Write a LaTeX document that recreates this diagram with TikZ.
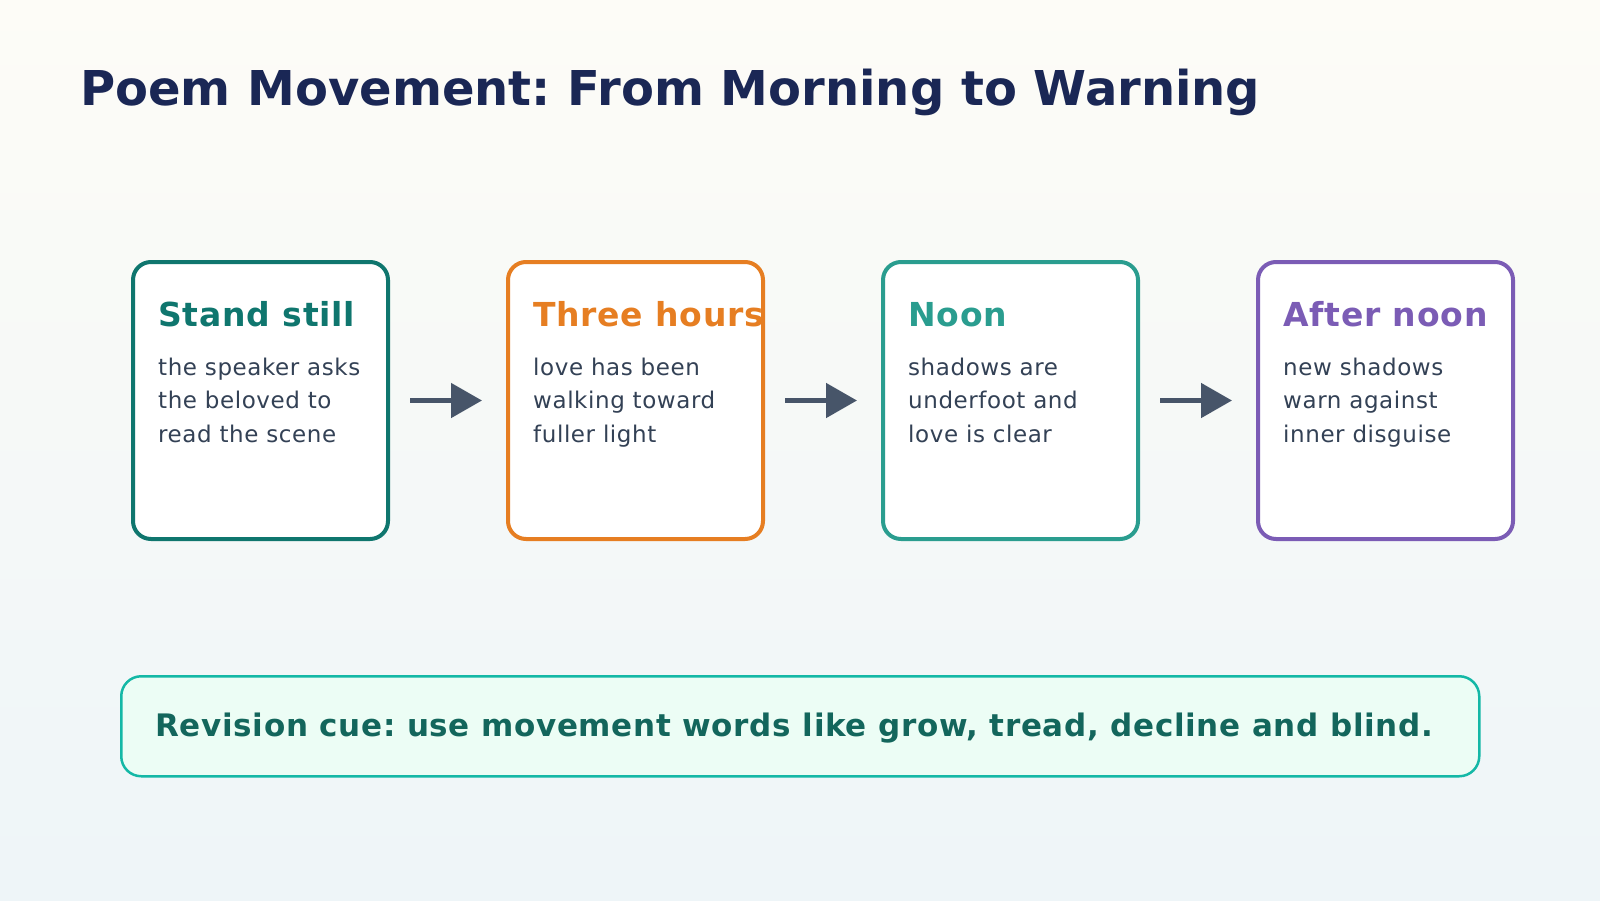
\documentclass[tikz,border=0pt]{standalone}
\usepackage{fontspec}
\setmainfont{DejaVu Sans}
\frenchspacing
\usetikzlibrary{arrows.meta,positioning}
\definecolor{ink}{HTML}{1A2755}
\definecolor{bodytext}{HTML}{334155}
\definecolor{arrowgray}{HTML}{475569}
\definecolor{stillc}{HTML}{0F766E}
\definecolor{hoursc}{HTML}{E67E22}
\definecolor{noonc}{HTML}{2A9D8F}
\definecolor{afterc}{HTML}{7B5CB5}
\definecolor{cueline}{HTML}{14B8A6}
\definecolor{cuefill}{HTML}{ECFDF5}
\definecolor{cuetext}{HTML}{13665C}
\definecolor{bgtop}{HTML}{FDFCF7}
\definecolor{bgbot}{HTML}{EEF5F8}

\begin{document}
\begin{tikzpicture}[x=1pt,y=-1pt,
  card/.style={rectangle,rounded corners=18pt,line width=4pt,draw,fill=white,minimum width=255pt,minimum height=277pt,anchor=north west},
  card title/.style={anchor=base west,inner sep=0pt,font=\fontsize{33}{40}\selectfont\bfseries\addfontfeature{LetterSpace=2.4}},
  card text/.style={anchor=base west,inner sep=0pt,align=left,text=bodytext,font=\fontsize{23}{33.5}\selectfont\addfontfeature{LetterSpace=2.5}},
  flow arrow/.style={-{Triangle[length=31pt,width=34pt]},line width=5pt,draw=arrowgray,shorten <=20pt,shorten >=24pt}]
\shade[top color=bgtop,bottom color=bgbot] (0,0) rectangle (1600,900);
\useasboundingbox (0,0) rectangle (1600,900);
\node[anchor=base west,inner sep=0pt,text=ink,font=\fontsize{48}{56}\selectfont\bfseries] (title) at (80,105) {Poem Movement: From Morning to Warning};
% the four stages
\node[card,draw=stillc] (c1) at (131,260) {};
\node[card,draw=hoursc] (c2) at (506,260) {};
\node[card,draw=noonc] (c3) at (881,260) {};
\node[card,draw=afterc] (c4) at (1256,260) {};
\node[card title,text=stillc] (t1) at (158,326) {Stand still};
\node[card title,text=hoursc] (t2) at (533,326) {Three hours};
\node[card title,text=noonc] (t3) at (908,326) {Noon};
\node[card title,text=afterc] (t4) at (1283,326) {After noon};
\node[card text] (d1) at (158,442) {the speaker asks\\the beloved to\\read the scene};
\node[card text] (d2) at (533,442) {love has been\\walking toward\\fuller light};
\node[card text] (d3) at (908,442) {shadows are\\underfoot and\\love is clear};
\node[card text] (d4) at (1283,442) {new shadows\\warn against\\inner disguise};
\draw[flow arrow] (c1.east) -- (c2.west);
\draw[flow arrow] (c2.east) -- (c3.west);
\draw[flow arrow] (c3.east) -- (c4.west);
% revision cue
\node[rectangle,rounded corners=20pt,line width=2.5pt,draw=cueline,fill=cuefill,minimum width=1358pt,minimum height=100pt,anchor=north west] (cue) at (120,675) {};
\node[anchor=base west,inner sep=0pt,text=cuetext,font=\fontsize{31}{36}\selectfont\bfseries\addfontfeature{LetterSpace=2.2}] (cuetxt) at (155,736) {Revision cue: use movement words like grow, tread, decline and blind.};
\end{tikzpicture}
\end{document}
